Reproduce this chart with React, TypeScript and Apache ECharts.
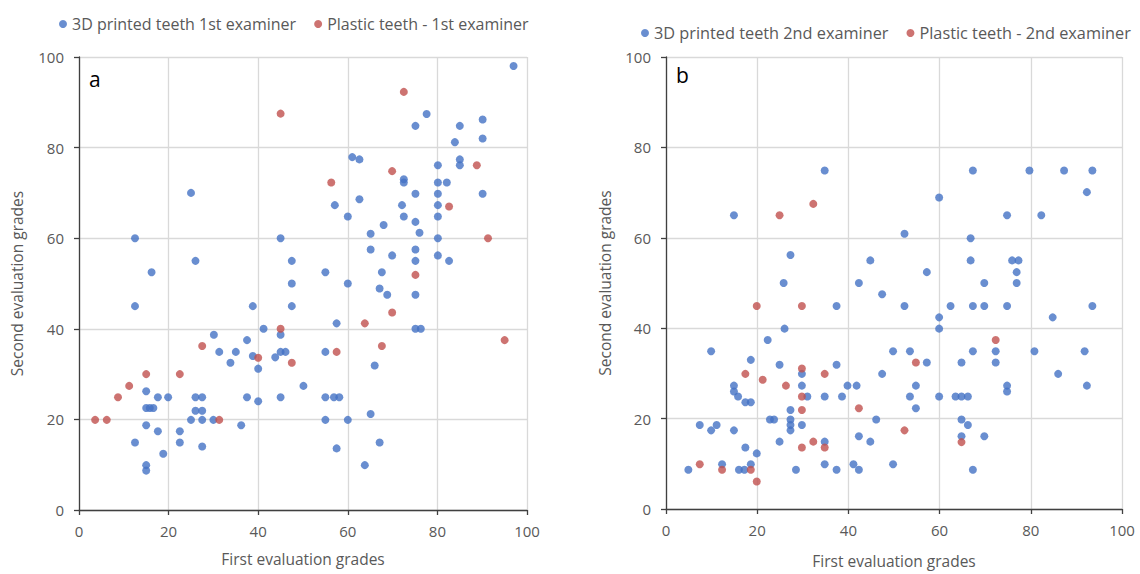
import React, { useEffect, useRef } from "react";
import * as echarts from "echarts";

// Panel a: first examiner (x = first evaluation, y = second evaluation)
const printedFirst: number[][] = [
  [12.5, 60], [16.2, 52.5], [25, 70], [26, 55], [45, 60], [47.5, 55], [47.5, 50],
  [97, 98], [77.6, 87.4], [75.1, 84.8], [85, 84.8], [90.1, 86.2], [83.9, 81.2], [90.1, 82],
  [61, 77.9], [62.6, 77.4], [85, 77.4], [85, 76.1], [80.1, 76.1], [72.5, 73], [72.5, 72.3],
  [80.1, 72.3], [82.1, 72.3], [75.1, 69.8], [80.1, 69.8], [90.1, 69.8], [62.6, 68.6],
  [57.1, 67.3], [72.1, 67.3], [80.1, 67.3], [60, 64.8], [72.5, 64.8], [80.1, 64.8], [68, 62.9],
  [75.1, 63.6], [65.1, 61], [76, 61.2], [80.1, 60], [65.1, 57.5], [69.9, 56.2], [75.1, 57.5],
  [75.1, 55], [80.1, 56.2], [82.6, 55], [55, 52.5], [67.6, 52.5], [60, 50], [67.1, 48.9],
  [68.8, 47.5], [75.1, 47.5], [57.5, 41.2], [75.1, 40], [76.3, 40], [55, 34.9], [66, 31.9],
  [50.1, 27.4], [55, 24.9], [56.9, 24.9], [58.1, 24.9], [55, 19.9], [60, 19.9], [65.1, 21.2],
  [57.5, 13.6], [67.1, 14.9], [63.8, 9.9],
  [12.5, 45], [38.8, 45], [47.5, 45], [41.2, 40], [45, 38.7], [30.1, 38.7], [37.5, 37.5],
  [31.3, 34.9], [35, 34.9], [45, 34.9], [46.1, 34.9], [38.8, 34], [43.8, 33.7], [33.8, 32.5],
  [40, 31.2], [15, 26.2], [17.6, 24.9], [19.9, 24.9], [26, 24.9], [27.5, 24.9], [37.5, 24.9],
  [45, 24.9], [15, 22.5], [15.8, 22.5], [16.6, 22.5], [40, 24], [26, 21.9], [27.5, 21.9],
  [25, 19.9], [27.5, 19.9], [30, 19.9], [36.2, 18.7], [15, 18.7], [17.6, 17.4], [22.5, 17.4],
  [12.5, 14.9], [22.5, 14.9], [27.5, 14], [18.8, 12.4], [15, 9.9], [15, 8.7],
];

const plasticFirst: number[][] = [
  [45, 87.5], [72.5, 92.3], [88.8, 76.1], [69.9, 74.8], [56.3, 72.3], [82.6, 67], [91.3, 60],
  [75.1, 51.9], [69.9, 43.6], [63.8, 41.2], [95, 37.5], [57.5, 34.9], [67.6, 36.2], [47.5, 32.5],
  [45, 40], [27.5, 36.2], [40, 33.6], [15, 30], [22.5, 30], [11.2, 27.4], [8.7, 24.9],
  [3.6, 19.9], [6.2, 19.9], [31.3, 19.9],
];

// Panel b: second examiner
const printedSecond: number[][] = [
  [34.8, 74.9], [14.9, 65], [27.3, 56.2], [44.8, 55], [25.8, 50], [42.3, 50],
  [67.3, 74.9], [79.7, 74.9], [87.3, 74.9], [93.5, 74.9], [92.3, 70.1], [59.9, 68.9],
  [74.8, 65], [82.3, 65], [52.3, 60.9], [66.8, 59.9], [66.8, 55], [75.9, 55], [77.3, 55],
  [57.2, 52.4], [76.9, 52.4], [69.8, 50], [76.9, 50],
  [52.3, 44.9], [62.4, 44.9], [67.3, 44.9], [69.8, 44.9], [74.8, 44.9], [93.5, 44.9],
  [84.8, 42.4], [59.9, 42.4], [59.9, 39.9], [49.8, 34.9], [53.5, 34.9], [67.3, 34.9],
  [72.3, 34.9], [80.8, 34.9], [91.8, 34.9], [57.2, 32.4], [64.8, 32.4], [72.3, 32.4],
  [86, 29.9], [54.8, 27.3], [74.8, 27.3], [74.8, 26], [92.3, 27.3], [53.5, 24.9], [59.9, 24.9],
  [63.5, 24.9], [64.8, 24.9], [66.2, 24.9], [54.8, 22.3], [64.8, 19.8], [66.2, 18.6],
  [64.8, 16.1], [69.8, 16.1], [49.8, 9.9], [67.3, 8.7],
  [47.4, 47.5], [37.4, 44.9], [26, 39.9], [22.3, 37.4], [9.9, 34.9], [18.6, 33], [24.9, 31.9],
  [37.4, 31.9], [29.8, 29.9], [47.4, 29.9], [14.9, 27.3], [14.9, 26], [15.8, 24.9],
  [29.8, 27.3], [39.8, 27.3], [41.8, 27.3], [17.4, 23.6], [18.6, 23.6], [31, 24.9],
  [34.8, 24.9], [38.6, 24.9], [27.3, 21.9], [22.8, 19.8], [23.7, 19.8], [27.3, 19.8],
  [46.1, 19.8], [7.4, 18.6], [11.1, 18.6], [27.3, 18.6], [27.3, 17.4], [29.8, 18.6],
  [9.9, 17.4], [14.9, 17.4], [24.9, 14.9], [34.8, 14.9], [42.3, 16.1], [44.8, 14.9],
  [17.4, 13.6], [19.9, 12.3], [4.9, 8.7], [12.3, 9.9], [16, 8.7], [17.2, 8.7], [18.6, 9.9],
  [28.5, 8.7], [34.8, 9.9], [37.4, 8.7], [41.1, 9.9], [42.3, 8.7],
];

const plasticSecond: number[][] = [
  [32.3, 67.5], [24.9, 65], [72.3, 37.4], [54.8, 32.4], [52.3, 17.4], [64.8, 14.8],
  [19.9, 44.9], [29.8, 44.9], [29.8, 31.1], [17.4, 29.9], [34.8, 29.9], [21.2, 28.6],
  [26.3, 27.3], [29.8, 24.9], [29.8, 21.9], [42.3, 22.3], [32.3, 14.9], [34.8, 13.6],
  [29.8, 13.6], [7.4, 9.9], [12.3, 8.7], [18.6, 8.7], [19.9, 6.1],
];

const seriesNames = [
  "3D printed teeth 1st examiner",
  "Plastic teeth - 1st examiner",
  "3D printed teeth 2nd examiner",
  "Plastic teeth - 2nd examiner",
];
const panelLabels = ["a", "b"];
const xAxisTitle = "First evaluation grades";
const yAxisTitle = "Second evaluation grades";

const BLUE = "#4472C4";
const RED = "#C0504D";
const FONT = "Open Sans";
const GRAY = "#595959";

function axisCommon(gridIndex: number, isX: boolean, name: string, nameGap: number) {
  return {
    type: "value",
    gridIndex,
    min: 0,
    max: 100,
    interval: 20,
    name,
    nameLocation: "middle",
    nameGap,
    nameRotate: isX ? 0 : 90,
    nameTextStyle: { color: GRAY, fontSize: 15.5, fontFamily: FONT },
    axisLine: { show: true, onZero: false, lineStyle: { color: "#404040", width: 1.3 } },
    axisTick: { show: true, inside: false, length: 5, lineStyle: { color: "#404040", width: 1.3 } },
    axisLabel: { color: GRAY, fontSize: 15, fontFamily: FONT, margin: isX ? 13 : 15 },
    splitLine: { show: true, lineStyle: { color: "#d9d9d9", width: 1.3 } },
  };
}

export default function App() {
  const ref = useRef<HTMLDivElement>(null);
  useEffect(() => {
    if (!ref.current) return;
    const chart = echarts.init(ref.current, undefined, { renderer: "svg" });
    const sym = (color: string) => ({ color });
    chart.setOption({
      animation: false,
      backgroundColor: "#ffffff",
      textStyle: { fontFamily: FONT },
      legend: [
        {
          data: [seriesNames[0], seriesNames[1]],
          left: 54,
          top: 11,
          icon: "circle",
          itemWidth: 8,
          itemHeight: 8,
          itemGap: 18,
          textStyle: { color: GRAY, fontSize: 16, fontFamily: FONT },
        },
        {
          data: [seriesNames[2], seriesNames[3]],
          left: 636,
          top: 20,
          icon: "circle",
          itemWidth: 8,
          itemHeight: 8,
          itemGap: 18,
          textStyle: { color: GRAY, fontSize: 16.3, fontFamily: FONT },
        },
      ],
      grid: [
        { left: 79, top: 57, width: 448, height: 453, containLabel: false },
        { left: 666, top: 57, width: 456, height: 458, containLabel: false },
      ],
      xAxis: [
        axisCommon(0, true, xAxisTitle, 41),
        axisCommon(1, true, xAxisTitle, 44),
      ],
      yAxis: [
        axisCommon(0, false, yAxisTitle, 54),
        axisCommon(1, false, yAxisTitle, 53),
      ],
      graphic: [
        {
          type: "text",
          left: 89,
          top: 68,
          style: { text: panelLabels[0], fontSize: 21, fontFamily: FONT, fill: "#000" },
        },
        {
          type: "text",
          left: 676,
          top: 64,
          style: { text: panelLabels[1], fontSize: 21, fontFamily: FONT, fill: "#000" },
        },
      ],
      series: [
        {
          name: seriesNames[0], type: "scatter", xAxisIndex: 0, yAxisIndex: 0,
          data: printedFirst, symbolSize: 8, itemStyle: sym(BLUE),
        },
        {
          name: seriesNames[1], type: "scatter", xAxisIndex: 0, yAxisIndex: 0,
          data: plasticFirst, symbolSize: 8, itemStyle: sym(RED),
        },
        {
          name: seriesNames[2], type: "scatter", xAxisIndex: 1, yAxisIndex: 1,
          data: printedSecond, symbolSize: 8, itemStyle: sym(BLUE),
        },
        {
          name: seriesNames[3], type: "scatter", xAxisIndex: 1, yAxisIndex: 1,
          data: plasticSecond, symbolSize: 8, itemStyle: sym(RED),
        },
      ],
    });
    return () => chart.dispose();
  }, []);
  return (
    <div
      ref={ref}
      style={{ position: "fixed", left: 0, top: 0, width: 1140, height: 574, background: "#fff" }}
    />
  );
}
